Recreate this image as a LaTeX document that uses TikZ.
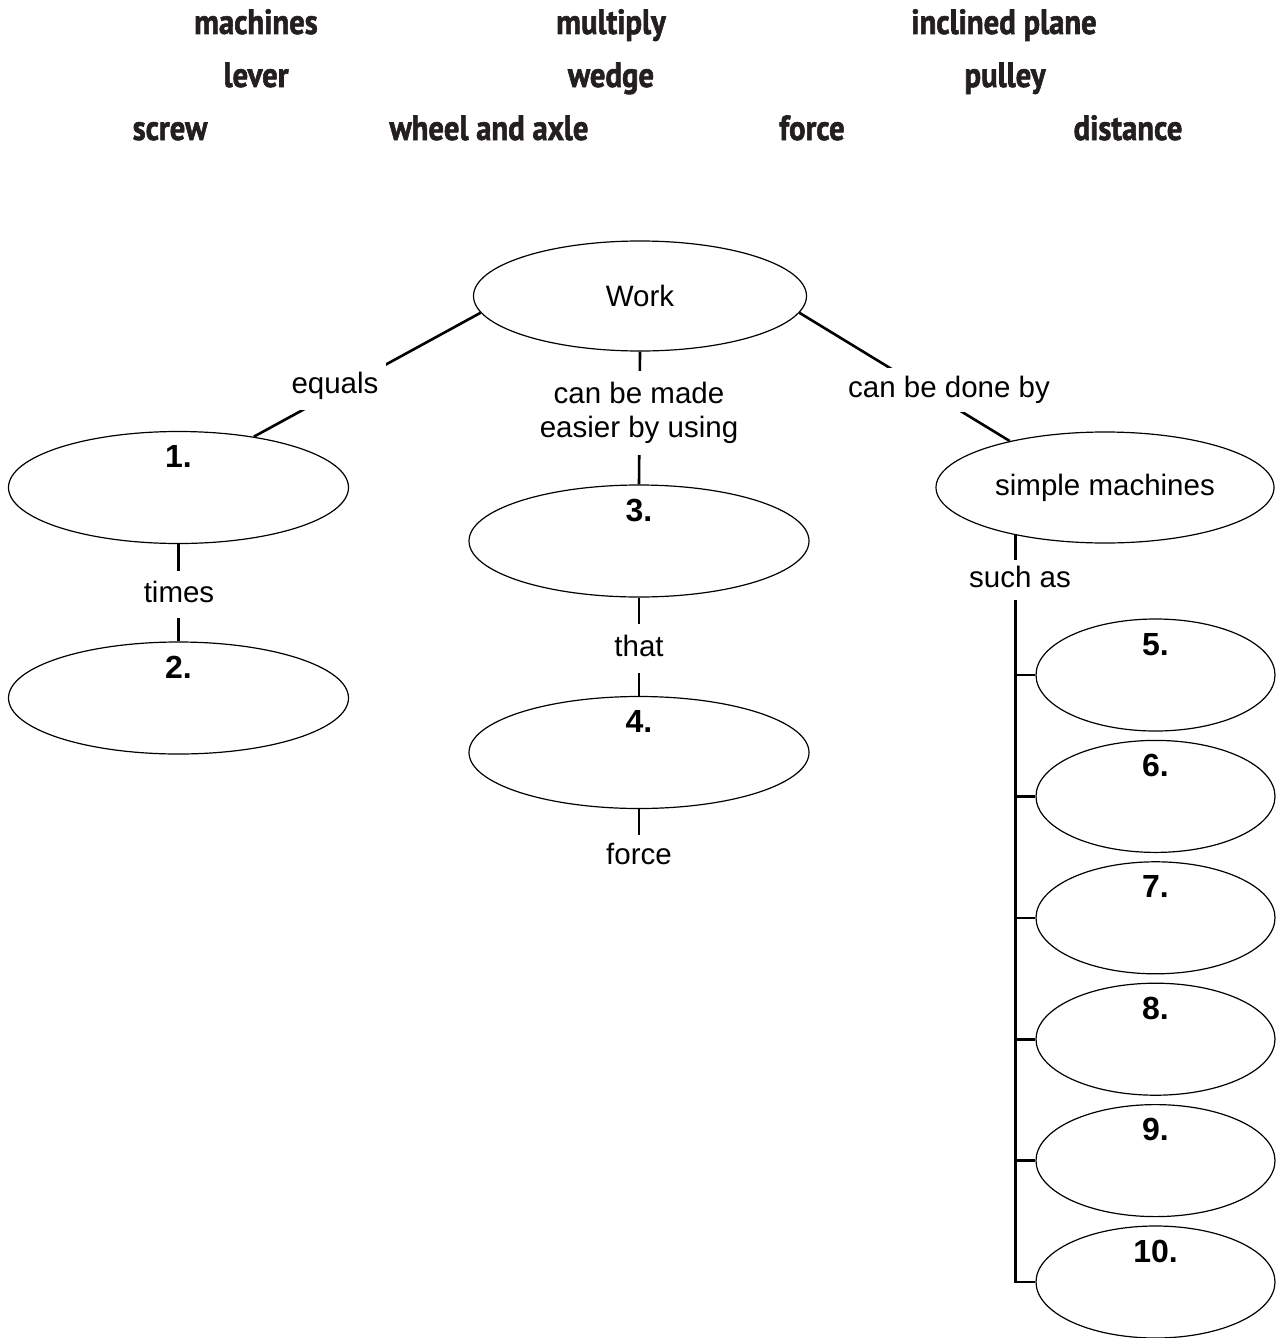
\documentclass[tikz,border=0pt]{standalone}
\usepackage{fontspec}
\setmainfont{Liberation Sans}
\newfontfamily\condfont[FakeStretch=0.877,FakeBold=1.6]{PT Sans}
\usetikzlibrary{shapes.geometric}
\definecolor{wordgray}{RGB}{35,31,32}
\begin{document}
\begin{tikzpicture}[x=1pt,y=-1pt,
  bubble/.style={ellipse, draw, line width=1.2pt, inner sep=0pt,
    minimum width=340pt, minimum height=112pt,
    font=\fontsize{29.5}{34}\selectfont},
  smallbubble/.style={bubble, minimum width=239pt},
  conn/.style={line width=2.6pt},
  lbl/.style={fill=white, inner xsep=8pt, inner ysep=0pt,
    text height=21pt, text depth=6pt, font=\fontsize{29.5}{34}\selectfont},
  lbltwo/.style={fill=white, inner xsep=8pt, inner ysep=0pt, align=center,
    font=\fontsize{29.5}{34}\selectfont},
  num/.style={font=\fontsize{32}{36}\selectfont\bfseries, anchor=base, inner sep=0pt},
  word/.style={font=\condfont\bfseries\fontsize{35}{40}\selectfont, text=wordgray,
    anchor=base, inner sep=0pt}
]
\useasboundingbox (0,0) rectangle (1281,1338);

% word bank
\node[word] (w1) at (256,34) {machines};
\node[word] (w2) at (611,34) {multiply};
\node[word] (w3) at (1004,34) {inclined plane};
\node[word] (w4) at (256,87) {lever};
\node[word] (w5) at (611,87) {wedge};
\node[word] (w6) at (1005,87) {pulley};
\node[word] (w7) at (170,140) {screw};
\node[word] (w8) at (489,140) {wheel and axle};
\node[word] (w9) at (812,140) {force};
\node[word] (w10) at (1128,140) {distance};

% ellipses
\node[bubble, minimum width=333pt, minimum height=110pt] (work) at (640,296) {Work};
\node[bubble] (n1) at (178.5,487.5) {};
\node[bubble] (n2) at (178.5,698) {};
\node[bubble] (n3) at (639,541) {};
\node[bubble] (n4) at (639,752.5) {};
\node[bubble, minimum width=338pt, minimum height=111pt] (sm) at (1105,487.5) {simple machines};
\foreach \i/\y in {5/675,6/796.4,7/917.8,8/1039.2,9/1160.6,10/1282}
  \node[smallbubble] (n\i) at (1155.5,\y) {};

% numbers
\foreach \i in {1,...,10}
  \node[num] (l\i) at ([yshift=20pt]n\i.center) {\i.};

% connectors
\draw[conn] (work.186) -- (n1.34);
\draw[conn] (work.354) -- (sm.154);
\draw[conn] (work.south) -- (n3.north);
\draw[conn] (n3.south) -- (n4.north);
\draw[conn] (n1.south) -- (n2.north);
\coordinate (trunktop) at (sm.208);
\draw[conn] (trunktop) |- (n10.west);
\foreach \i in {5,...,9}
  \draw[conn] (n\i.west -| trunktop) -- (n\i.west);

% linking phrases
\node[lbl, minimum height=48pt] (eq) at (335,386) {equals};
\node[lbl, minimum height=44pt] (cbd) at (949,390) {can be done by};
\node[lbltwo, minimum height=84pt] (cbm) at (639,413) {can be made\\easier by using};
\node[lbl, minimum height=47pt] (times) at (179,594.5) {times};
\node[lbl, minimum height=49pt] (that) at (639,648.5) {that};
\node[lbl, minimum height=40pt] (such) at (1020,580) {such as};
\node[lbl, minimum height=44pt] (force) at (639,857) {force};
\draw[conn] (n4.south) -- (force.north);
\end{tikzpicture}
\end{document}
